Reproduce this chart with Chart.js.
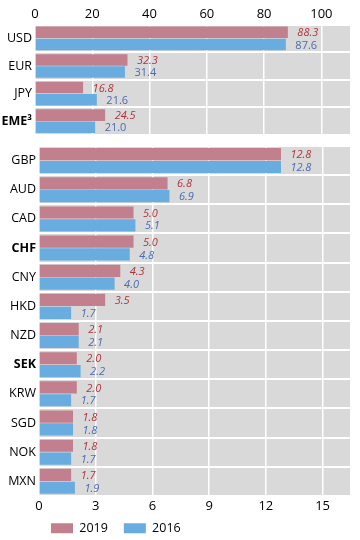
<!DOCTYPE html>
<html>
<head>
<meta charset="utf-8">
<script src="https://cdn.jsdelivr.net/npm/chart.js@4"></script>
<style>
html,body{margin:0;padding:0;background:#fff;width:360px;height:540px;overflow:hidden;}
#c1{position:absolute;left:0;top:0;}
#c2{position:absolute;left:0;top:140px;}
</style>
</head>
<body>
<canvas id="c1" width="360" height="138" style="width:360px;height:138px"></canvas>
<canvas id="c2" width="360" height="416" style="width:360px;height:416px"></canvas>
<script>
// ---- data ----
const seriesNames = ['2019', '2016'];
const topCats = ['USD', 'EUR', 'JPY', 'EME³'];
const top2019 = [88.3, 32.3, 16.8, 24.5];
const top2016 = [87.6, 31.4, 21.6, 21.0];
const botCats = ['GBP', 'AUD', 'CAD', 'CHF', 'CNY', 'HKD', 'NZD', 'SEK', 'KRW', 'SGD', 'NOK', 'MXN'];
const bot2019 = [12.8, 6.8, 5.0, 5.0, 4.3, 3.5, 2.1, 2.0, 2.0, 1.8, 1.8, 1.7];
const bot2016 = [12.8, 6.9, 5.1, 4.8, 4.0, 1.7, 2.1, 2.2, 1.7, 1.8, 1.7, 1.9];
const topTicks = [0, 20, 40, 60, 80, 100];
const botTicks = [0, 3, 6, 9, 12, 15];
const boldCats = ['EME³', 'CHF', 'SEK'];

// ---- styles ----
const C2019 = '#c27f8e', C2016 = '#69ade0';
const L2019 = '#b0343c', L2016 = '#4a6cb0';
const FONT = "'Open Sans', 'DejaVu Sans', sans-serif";
const GRAY = '#d9d9d9';

const bgPlugin = {
  id: 'bg',
  beforeDraw(chart) {
    const a = chart.chartArea, ctx = chart.ctx;
    ctx.save(); ctx.fillStyle = GRAY;
    ctx.fillRect(a.left, a.top, a.right - a.left, a.bottom - a.top);
    ctx.restore();
  }
};
function labelPlugin(italic2016) {
  return {
    id: 'vals',
    afterDatasetsDraw(chart) {
      const ctx = chart.ctx;
      chart.data.datasets.forEach((ds, i) => {
        const meta = chart.getDatasetMeta(i);
        meta.data.forEach((bar, j) => {
          ctx.save();
          const it = (i === 0 || italic2016) ? 'italic ' : '';
          ctx.font = it + '11px ' + FONT;
          ctx.fillStyle = i === 0 ? L2019 : L2016;
          ctx.textAlign = 'left'; ctx.textBaseline = 'middle';
          ctx.fillText(ds.data[j].toFixed(1), bar.x + 9.5, bar.y + 1);
          ctx.restore();
        });
      });
    }
  };
}
function makeOpts(ticksArr, max, pos, yWidth, pad, legend) {
  return {
    indexAxis: 'y',
    responsive: false,
    animation: false,
    devicePixelRatio: 1,
    layout: { padding: pad },
    plugins: {
      legend: legend,
      tooltip: { enabled: false }
    },
    scales: {
      x: {
        position: pos,
        min: 0, max: max,
        afterBuildTicks(scale) { scale.ticks = ticksArr.map(v => ({ value: v })); },
        afterFit(scale) { scale.paddingLeft = 0; scale.paddingRight = 0; },
        ticks: { font: { size: 13, family: FONT }, color: '#000', padding: 3 },
        grid: { color: '#ffffff', lineWidth: 1.5, drawTicks: false },
        border: { display: false }
      },
      y: {
        afterFit(scale) { scale.width = yWidth; scale.paddingTop = 0; scale.paddingBottom = 0; },
        ticks: {
          color: '#000',
          padding: 3,
          font: (c) => ({ size: 12.5, family: FONT, weight: boldCats.includes(c.chart.data.labels[c.index]) ? 'bold' : 'normal' })
        },
        grid: { color: '#ffffff', lineWidth: 2, drawTicks: false, offset: true },
        border: { display: false }
      }
    }
  };
}
function ds(cats, a, b) {
  return {
    labels: cats,
    datasets: [
      { label: seriesNames[0], data: a, backgroundColor: C2019, categoryPercentage: 0.88, barPercentage: 0.95 },
      { label: seriesNames[1], data: b, backgroundColor: C2016, categoryPercentage: 0.88, barPercentage: 0.95 }
    ]
  };
}

new Chart(document.getElementById('c1'), {
  type: 'bar',
  data: ds(topCats, top2019, top2016),
  options: makeOpts(topTicks, 110, 'top', 35, { top: 3, right: 10, bottom: 3, left: 0 }, { display: false }),
  plugins: [bgPlugin, labelPlugin(false)]
});

const legendShift = {
  id: 'legendShift',
  afterLayout(chart) {
    const lg = chart.legend;
    if (lg) { lg.left = 35; lg.top = 366; }
  }
};
new Chart(document.getElementById('c2'), {
  type: 'bar',
  data: ds(botCats, bot2019, bot2016),
  options: makeOpts(botTicks, 16.45, 'bottom', 39, { top: 6, right: 10, bottom: 0, left: 0 }, {
    display: true, position: 'bottom', align: 'start',
    labels: { boxWidth: 22, boxHeight: 10, padding: 16, color: '#000', font: { size: 12.5, family: FONT } }
  }),
  plugins: [bgPlugin, labelPlugin(true), legendShift]
});
</script>
</body>
</html>
